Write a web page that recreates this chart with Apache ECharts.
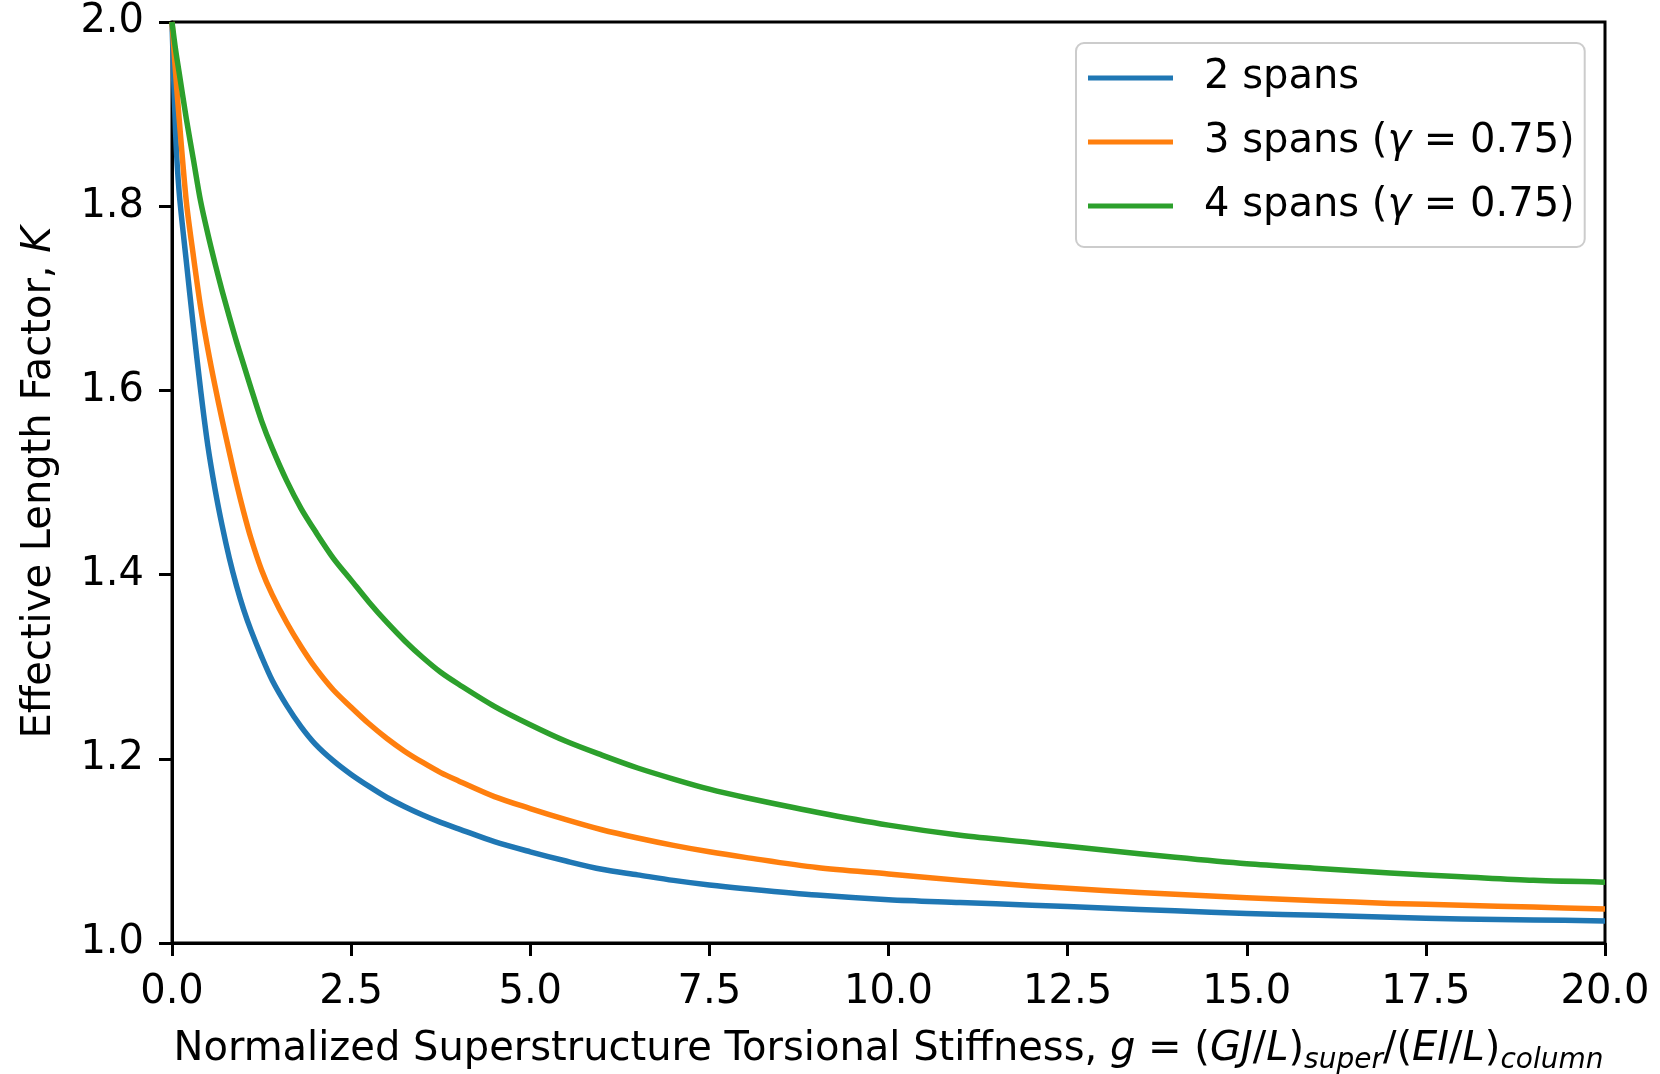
<!DOCTYPE html>
<html>
<head>
<meta charset="utf-8">
<script src="https://cdn.jsdelivr.net/npm/echarts@6/dist/echarts.min.js"></script>
<style>
html,body{margin:0;padding:0;background:#fff;}
#chart{width:1660px;height:1074px;}
</style>
</head>
<body>
<div id="chart"></div>
<script>
// Normalized superstructure torsional stiffness g (x values)
const gValues = [0, 0.05, 0.1, 0.2, 0.3, 0.4, 0.5, 0.6, 0.7, 0.8, 0.9, 1.0, 1.1, 1.25, 1.4, 1.6, 1.8, 2.0, 2.25, 2.5,
  2.75, 3.0, 3.25, 3.5, 3.75, 4.0, 4.5, 5.0, 5.5, 6, 6.5, 7, 7.5, 8, 9, 10, 11, 12, 13, 14, 15, 16, 17, 18, 19, 20];
// Effective length factor K for each configuration
const kTwoSpans = [2.0, 1.88, 1.815, 1.74, 1.668, 1.60, 1.540, 1.493, 1.453, 1.418, 1.388, 1.362, 1.340, 1.311, 1.285, 1.258, 1.235, 1.216, 1.198, 1.183,
  1.170, 1.158, 1.148, 1.139, 1.131, 1.124, 1.110, 1.099, 1.089, 1.080, 1.074, 1.068, 1.063, 1.059, 1.052, 1.047, 1.044, 1.041, 1.038, 1.035, 1.032, 1.030, 1.028, 1.026, 1.025, 1.024];
const kThreeSpans = [2.0, 1.945, 1.895, 1.805, 1.745, 1.69, 1.645, 1.605, 1.568, 1.533, 1.499, 1.468, 1.440, 1.405, 1.378, 1.348, 1.322, 1.299, 1.275, 1.256,
  1.238, 1.222, 1.208, 1.196, 1.185, 1.176, 1.159, 1.146, 1.134, 1.123, 1.114, 1.106, 1.099, 1.093, 1.082, 1.075, 1.068, 1.062, 1.057, 1.053, 1.049, 1.046, 1.043, 1.041, 1.039, 1.037];
const kFourSpans = [2.0, 1.97, 1.945, 1.895, 1.85, 1.805, 1.77, 1.738, 1.708, 1.68, 1.653, 1.628, 1.603, 1.567, 1.537, 1.502, 1.472, 1.447, 1.418, 1.394,
  1.370, 1.348, 1.328, 1.310, 1.294, 1.281, 1.257, 1.237, 1.219, 1.204, 1.190, 1.178, 1.167, 1.158, 1.142, 1.128, 1.117, 1.109, 1.101, 1.093, 1.086, 1.081, 1.076, 1.072, 1.068, 1.066];
const seriesNames = ['2 spans', '3 spans (γ = 0.75)', '4 spans (γ = 0.75)'];
const xTicks = [0, 2.5, 5, 7.5, 10, 12.5, 15, 17.5, 20];
const yTicks = [1.0, 1.2, 1.4, 1.6, 1.8, 2.0];

const FONT = 'DejaVu Sans';
const FS = 40;
const colors = ['#1f77b4', '#ff7f0e', '#2ca02c'];
const kSets = [kTwoSpans, kThreeSpans, kFourSpans];

const chart = echarts.init(document.getElementById('chart'), null, {renderer: 'canvas'});
chart.setOption({
  animation: false,
  backgroundColor: '#fff',
  textStyle: {fontFamily: FONT},
  grid: {left: 172, top: 22, right: 55, bottom: 131, outerBoundsMode: 'none', containLabel: false,
    show: true, borderColor: '#000', borderWidth: 3, backgroundColor: 'transparent'},
  legend: {
    orient: 'vertical',
    left: 1076, top: 43,
    data: seriesNames,
    icon: 'rect',
    itemWidth: 85, itemHeight: 5,
    itemGap: 24,
    padding: [15, 10, 21, 12],
    backgroundColor: 'rgba(255,255,255,0.8)',
    borderColor: '#cccccc', borderWidth: 2, borderRadius: 8,
    textStyle: {fontFamily: FONT, fontSize: FS, color: '#000', lineHeight: 40, padding: [0, 0, 0, 26],
      rich: {it: {fontFamily: FONT, fontSize: FS, fontStyle: 'italic', color: '#000', lineHeight: 40}}},
    formatter: function (n) { return n.replace('γ', '{it|γ}'); }
  },
  xAxis: {
    type: 'value', min: 0, max: 20, interval: 2.5,
    splitLine: {show: false},
    axisLine: {show: true, onZero: false, lineStyle: {color: '#000', width: 3}},
    axisTick: {show: true, inside: false, length: 13, lineStyle: {color: '#000', width: 3}},
    axisLabel: {fontFamily: FONT, fontSize: FS, color: '#000', margin: 30,
      formatter: function (v) { return xTicks.indexOf(v) >= 0 ? v.toFixed(1) : ''; }},
    name: 'Normalized Superstructure Torsional Stiffness, {it|g} = ({it|GJ}/{it|L}){sub|super}/({it|EI}/{it|L}){sub|column}',
    nameLocation: 'middle', nameGap: 82,
    nameTextStyle: {fontFamily: FONT, fontSize: FS, color: '#000',
      rich: {
        it: {fontFamily: FONT, fontSize: FS, fontStyle: 'italic', color: '#000'},
        sub: {fontFamily: FONT, fontSize: 28, fontStyle: 'italic', color: '#000', padding: [22, 0, 0, 0]}
      }}
  },
  yAxis: {
    type: 'value', min: 1.0, max: 2.0, interval: 0.2,
    splitLine: {show: false},
    axisLine: {show: true, onZero: false, lineStyle: {color: '#000', width: 3}},
    axisTick: {show: true, inside: false, length: 13, lineStyle: {color: '#000', width: 3}},
    axisLabel: {fontFamily: FONT, fontSize: FS, color: '#000', margin: 28,
      formatter: function (v) { return v.toFixed(1); }},
    name: 'Effective Length Factor, {it|K}',
    nameLocation: 'middle', nameGap: 112,
    nameTextStyle: {fontFamily: FONT, fontSize: FS, color: '#000',
      rich: {it: {fontFamily: FONT, fontSize: FS, fontStyle: 'italic', color: '#000'}}}
  },
  series: seriesNames.map(function (name, i) {
    return {
      name: name, type: 'line', showSymbol: false, symbol: 'none',
      smooth: 0.3,
      color: colors[i],
      lineStyle: {color: colors[i], width: 5.5, join: 'round'},
      data: gValues.map(function (g, j) { return [g, kSets[i][j]]; })
    };
  })
});
</script>
</body>
</html>
